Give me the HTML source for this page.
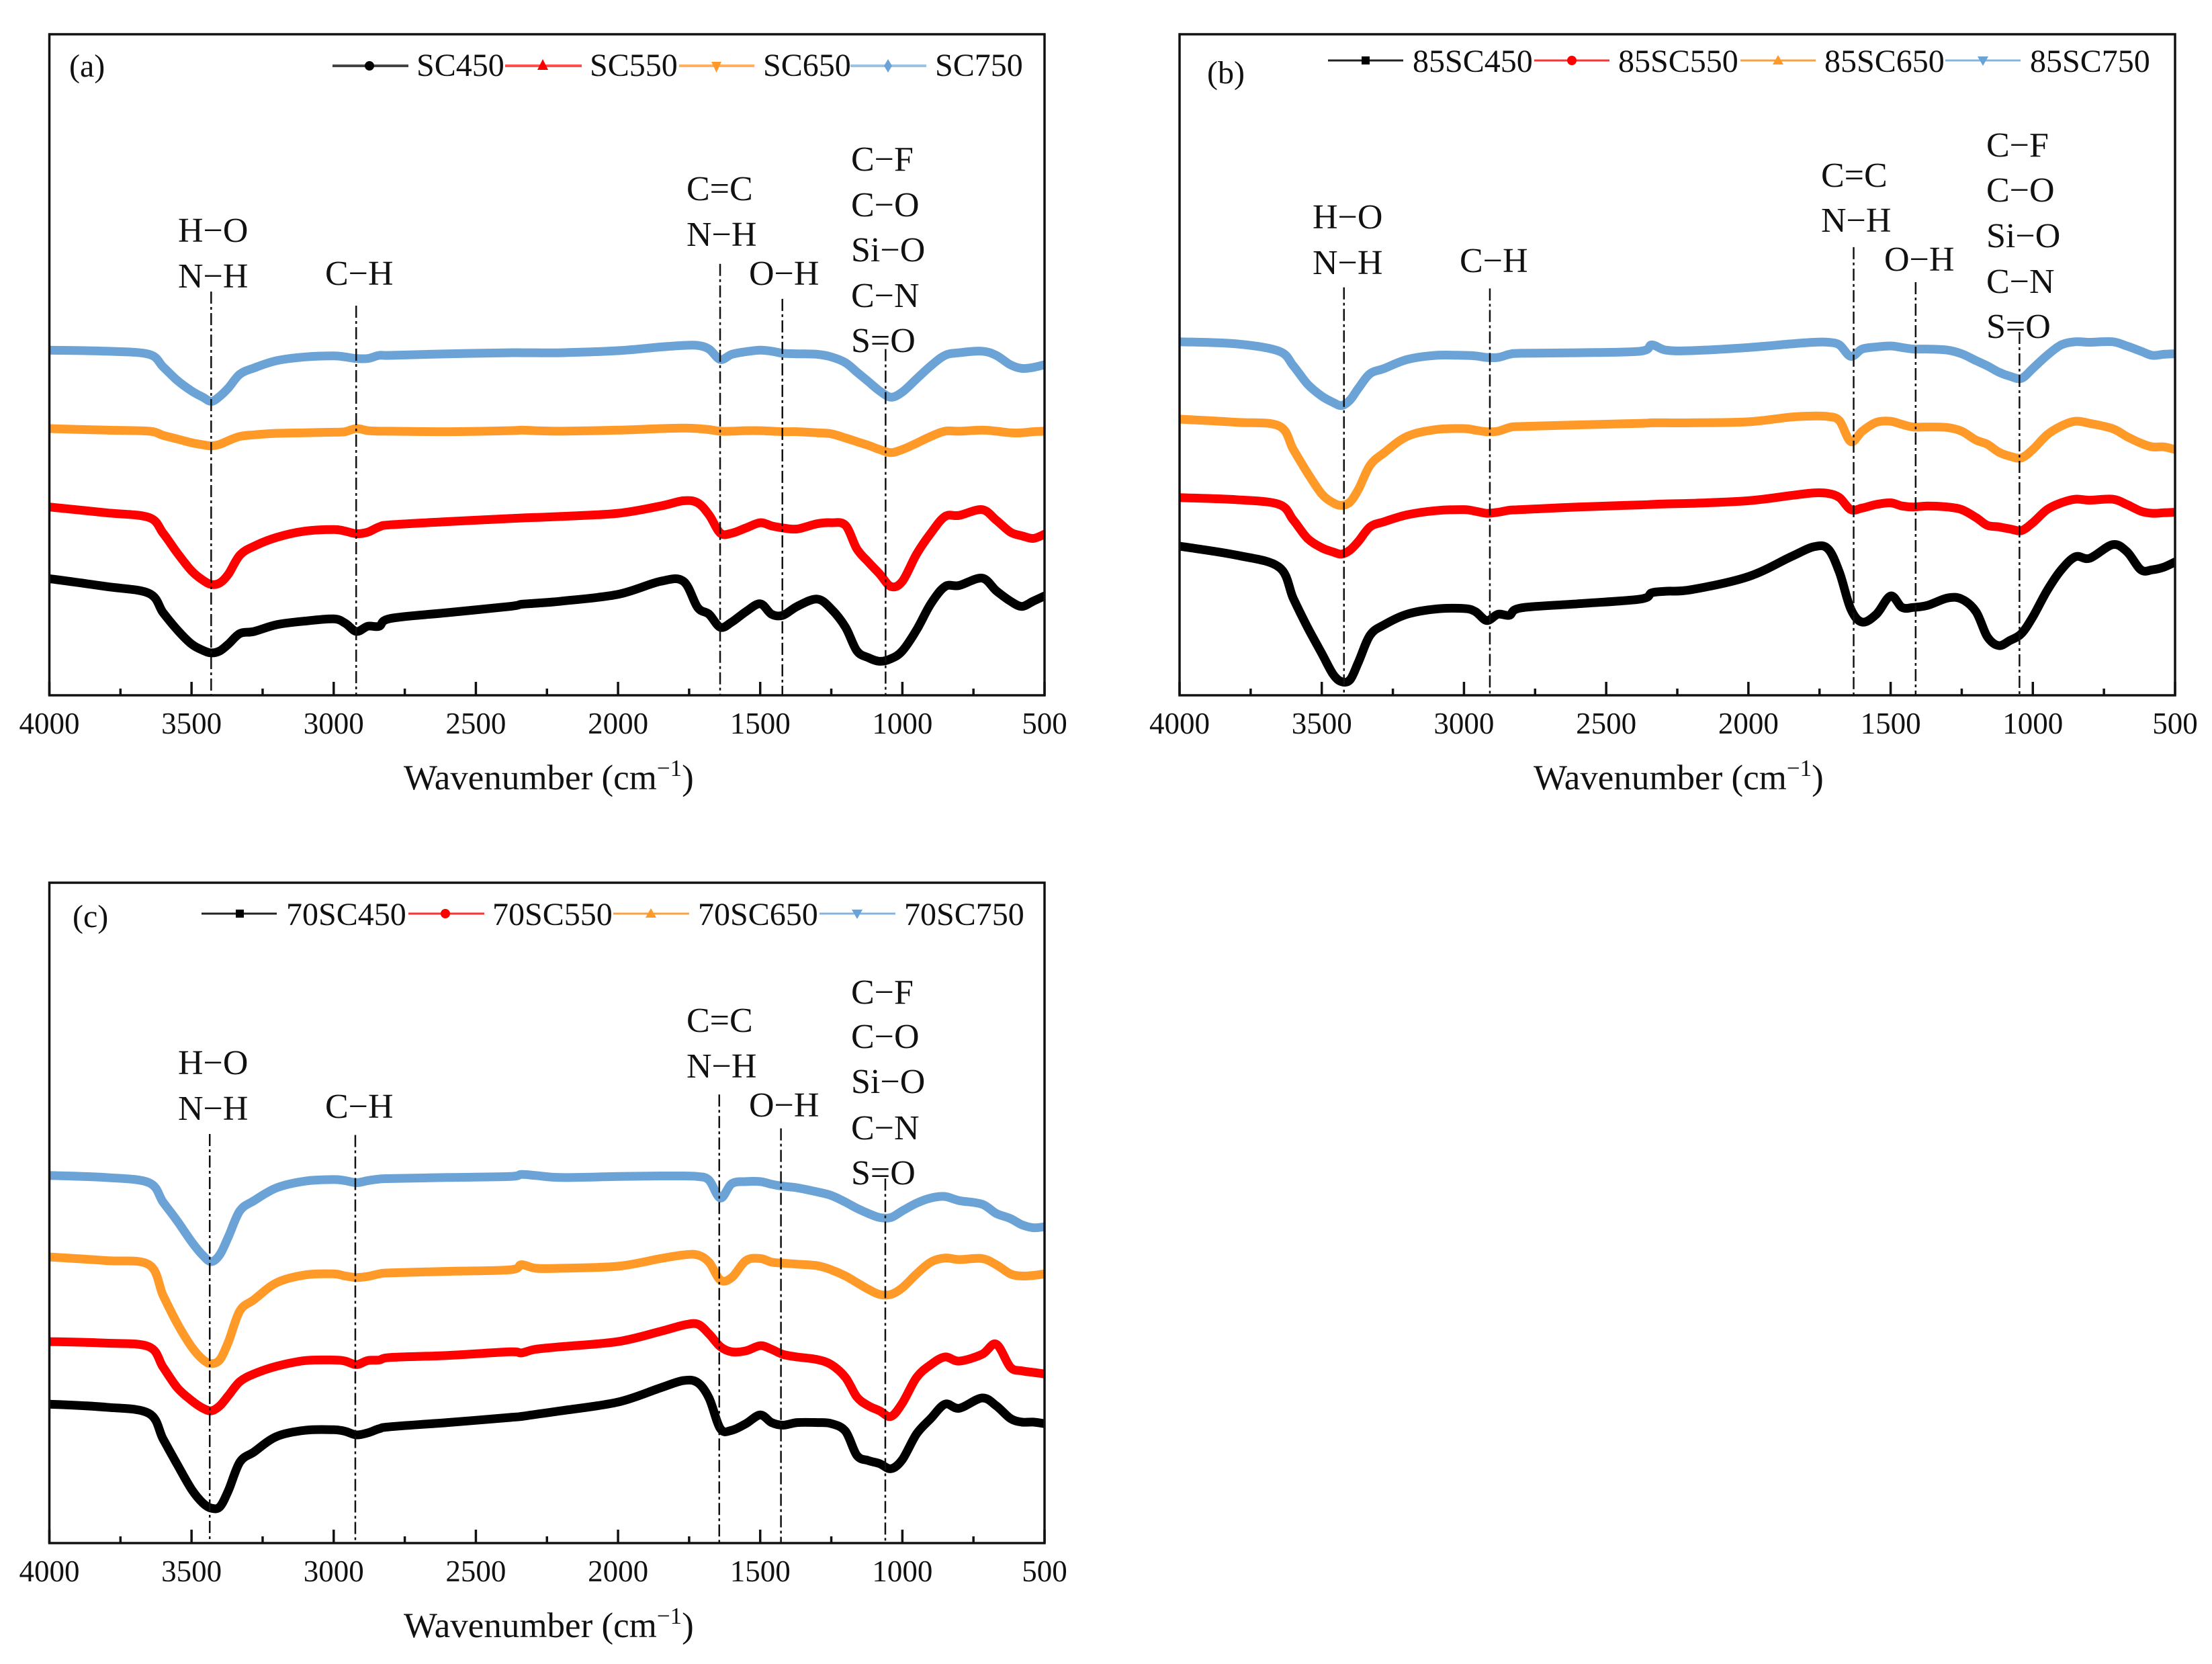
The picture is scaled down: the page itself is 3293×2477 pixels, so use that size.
<!DOCTYPE html>
<html lang="en">
<head>
<meta charset="utf-8">
<title>FTIR spectra panels</title>
<style>
html,body{margin:0;padding:0;background:#fff;}
svg{display:block;}
text{font-family:"Liberation Serif",serif;fill:#111;}
.tk{font-size:45px;text-anchor:middle;}
.an{font-size:52px;}
.lg{font-size:48px;}
.ttl{font-size:53px;}
.pl{font-size:48px;}
</style>
</head>
<body>
<svg id="figure" xmlns="http://www.w3.org/2000/svg" width="3293" height="2477" viewBox="0 0 3293 2477">
<rect width="3293" height="2477" fill="#fff"/>

<g id="panel-a">
  <g id="series-a"></g>
  <g id="axes-a"></g>
  <text class="pl" x="103" y="114">(a)</text>
  <g>
    <line x1="495" x2="608" y1="98" y2="98" stroke="#444" stroke-width="4"/>
    <circle cx="550" cy="98" r="7" fill="#000"/>
    <text class="lg" x="620" y="113">SC450</text>
    <line x1="752" x2="866" y1="98" y2="98" stroke="#ff5050" stroke-width="4"/>
    <path d="M808 88 l8 16 h-16 z" fill="#f00"/>
    <text class="lg" x="878" y="113">SC550</text>
    <line x1="1011" x2="1123" y1="98" y2="98" stroke="#ffb060" stroke-width="4"/>
    <path d="M1059 92 h15 l-7.500 16 z" fill="#ff9a28"/>
    <text class="lg" x="1136" y="113">SC650</text>
    <line x1="1266" x2="1379" y1="98" y2="98" stroke="#9cc2e4" stroke-width="4"/>
    <path d="M1322 88 l6 10 l-6 10 l-6 -10 z" fill="#6ba3d6"/>
    <text class="lg" x="1392" y="113">SC750</text>
  </g>
  <g>
    <text class="an" x="265" y="360">H−O</text>
    <text class="an" x="265" y="428">N−H</text>
    <text class="an" x="484" y="424">C−H</text>
    <text class="an" x="1022" y="298">C=C</text>
    <text class="an" x="1022" y="366">N−H</text>
    <text class="an" x="1115" y="424">O−H</text>
    <text class="an" x="1267" y="254">C−F</text>
    <text class="an" x="1267" y="322">C−O</text>
    <text class="an" x="1267" y="389">Si−O</text>
    <text class="an" x="1267" y="457">C−N</text>
    <text class="an" x="1267" y="524">S=O</text>
  </g>
  <text class="ttl" x="601" y="1175">Wavenumber (cm<tspan dy="-20" font-size="35">−1</tspan><tspan dy="20">)</tspan></text>
</g>

<g id="panel-b">
  <g id="series-b"></g>
  <g id="axes-b"></g>
  <text class="pl" x="1797" y="124">(b)</text>
  <g>
    <line x1="1977" x2="2089" y1="90" y2="90" stroke="#222" stroke-width="3"/>
    <rect x="2027" y="84" width="12" height="12" fill="#000"/>
    <text class="lg" x="2103" y="107">85SC450</text>
    <line x1="2284" x2="2396" y1="90" y2="90" stroke="#f33" stroke-width="3"/>
    <circle cx="2340" cy="90" r="7" fill="#f00"/>
    <text class="lg" x="2409" y="107">85SC550</text>
    <line x1="2591" x2="2703" y1="90" y2="90" stroke="#ffa040" stroke-width="3"/>
    <path d="M2647 82 l8 14 h-16 z" fill="#ff9a28"/>
    <text class="lg" x="2716" y="107">85SC650</text>
    <line x1="2896" x2="3008" y1="90" y2="90" stroke="#86b4de" stroke-width="3"/>
    <path d="M2944 84 h16 l-8 14 z" fill="#6ba3d6"/>
    <text class="lg" x="3022" y="107">85SC750</text>
  </g>
  <g>
    <text class="an" x="1954" y="340">H−O</text>
    <text class="an" x="1954" y="408">N−H</text>
    <text class="an" x="2173" y="405">C−H</text>
    <text class="an" x="2711" y="278">C=C</text>
    <text class="an" x="2711" y="345">N−H</text>
    <text class="an" x="2805" y="403">O−H</text>
    <text class="an" x="2957" y="233">C−F</text>
    <text class="an" x="2957" y="300">C−O</text>
    <text class="an" x="2957" y="368">Si−O</text>
    <text class="an" x="2957" y="436">C−N</text>
    <text class="an" x="2957" y="503">S=O</text>
  </g>
  <text class="ttl" x="2283" y="1175">Wavenumber (cm<tspan dy="-20" font-size="35">−1</tspan><tspan dy="20">)</tspan></text>
</g>

<g id="panel-c">
  <g id="series-c"></g>
  <g id="axes-c"></g>
  <text class="pl" x="108" y="1380">(c)</text>
  <g>
    <line x1="300" x2="412" y1="1360" y2="1360" stroke="#222" stroke-width="3"/>
    <rect x="351" y="1354" width="12" height="12" fill="#000"/>
    <text class="lg" x="426" y="1377">70SC450</text>
    <line x1="608" x2="721" y1="1360" y2="1360" stroke="#f33" stroke-width="3"/>
    <circle cx="663" cy="1360" r="7" fill="#f00"/>
    <text class="lg" x="733" y="1377">70SC550</text>
    <line x1="913" x2="1026" y1="1360" y2="1360" stroke="#ffa040" stroke-width="3"/>
    <path d="M969 1352 l8 14 h-16 z" fill="#ff9a28"/>
    <text class="lg" x="1039" y="1377">70SC650</text>
    <line x1="1220" x2="1333" y1="1360" y2="1360" stroke="#86b4de" stroke-width="3"/>
    <path d="M1268 1354 h16 l-8 14 z" fill="#6ba3d6"/>
    <text class="lg" x="1346" y="1377">70SC750</text>
  </g>
  <g>
    <text class="an" x="265" y="1599">H−O</text>
    <text class="an" x="265" y="1667">N−H</text>
    <text class="an" x="484" y="1664">C−H</text>
    <text class="an" x="1022" y="1536">C=C</text>
    <text class="an" x="1022" y="1604">N−H</text>
    <text class="an" x="1115" y="1662">O−H</text>
    <text class="an" x="1267" y="1494">C−F</text>
    <text class="an" x="1267" y="1560">C−O</text>
    <text class="an" x="1267" y="1627">Si−O</text>
    <text class="an" x="1267" y="1696">C−N</text>
    <text class="an" x="1267" y="1763">S=O</text>
  </g>
  <text class="ttl" x="601" y="2437">Wavenumber (cm<tspan dy="-20" font-size="35">−1</tspan><tspan dy="20">)</tspan></text>
</g>
</svg>

<script>
// Shared wavenumber grid (cm-1)
const wavenumbers = [
4000,3800,3650,3600,3550,3500,3460,3430,3400,3370,3330,
3280,3200,3100,3000,2960,2920,2880,2840,2800,2600,2380,
2340,2290,2200,2000,1850,1770,1720,1680,1640,1600,1550,
1500,1460,1420,1370,1300,1250,1200,1160,1120,1080,1040,
1000,950,900,850,800,720,670,620,580,540,500];

const tickLabels = [4000,3500,3000,2500,2000,1500,1000,500];
const minorTicks = [3750,3250,2750,2250,1750,1250,750];

// Signal readings (arbitrary units, offset downward)
const SC750 = [
670,672,678,702,728,748,760,768,758,742,716,
704,690,683,681,683,686,686,680,680,677,675,
675,675,675,671,664,661,661,668,688,678,673,
670,672,676,677,678,683,694,712,730,748,760,
750,725,700,680,675,672,680,698,705,703,698];
const SC650 = [
820,823,825,833,840,847,851,853,850,843,835,
832,829,828,827,826,820,824,825,825,826,824,
823,824,825,823,820,819,820,822,825,825,824,
824,825,826,826,828,830,838,845,852,860,866,
860,848,835,825,825,823,825,828,828,826,825];
const SC550 = [
970,981,990,1020,1058,1092,1110,1118,1115,1098,1062,
1045,1028,1016,1013,1016,1021,1018,1008,1004,998,992,
991,990,988,982,968,958,962,985,1020,1020,1010,
1000,1006,1010,1012,1002,1000,1005,1050,1075,1098,1122,
1112,1060,1020,988,986,975,995,1018,1025,1030,1022];
const SC450 = [
1107,1122,1135,1172,1205,1232,1244,1249,1245,1232,1212,
1208,1195,1188,1184,1192,1208,1198,1198,1183,1172,1160,
1156,1154,1150,1137,1112,1112,1162,1175,1200,1190,1170,
1155,1175,1177,1160,1146,1165,1200,1245,1258,1265,1260,
1245,1205,1155,1122,1120,1106,1130,1150,1160,1150,1140];

const SC85_750 = [
654,658,672,700,735,758,770,776,765,742,715,
705,688,680,680,681,684,684,678,676,675,672,
660,670,671,665,658,655,655,660,682,668,664,
662,665,668,668,670,677,690,700,712,720,724,
705,680,660,654,655,654,662,672,680,678,677];
const SC85_650 = [
802,808,815,860,905,945,962,967,960,935,890,
866,835,822,820,823,826,825,818,816,813,810,
809,809,809,807,798,796,797,805,845,825,808,
806,812,817,817,818,825,842,850,865,873,876,
860,832,815,806,810,820,835,848,855,855,860];
const SC85_550 = [
952,956,965,995,1030,1048,1056,1060,1052,1035,1008,
998,985,977,975,978,982,980,976,975,970,966,
965,964,963,958,948,943,944,952,975,972,965,
962,968,970,968,970,975,990,1005,1008,1012,1015,
1000,975,962,955,957,955,965,978,982,981,980];
const SC85_450 = [
1045,1062,1085,1145,1200,1250,1290,1304,1300,1265,1215,
1195,1175,1165,1164,1170,1187,1175,1177,1163,1155,1146,
1134,1131,1128,1103,1065,1046,1050,1095,1165,1190,1175,
1140,1162,1162,1158,1144,1146,1170,1218,1235,1225,1212,
1180,1130,1090,1065,1068,1042,1055,1090,1090,1085,1075];

const SC70_750 = [
616,620,630,668,705,745,772,784,770,735,685,
665,640,627,624,626,630,626,623,622,620,618,
614,616,620,618,617,617,618,625,660,632,628,
628,633,637,640,648,655,668,680,690,698,698,
685,670,660,657,665,672,690,700,712,718,716];
const SC70_650 = [
775,782,790,850,905,950,975,983,975,940,880,
858,825,810,808,812,815,813,808,806,803,800,
790,797,797,793,778,771,771,785,820,815,782,
778,785,787,789,792,800,812,825,838,848,848,
835,808,785,777,780,778,790,808,812,811,808];
const SC70_550 = [
940,943,950,990,1030,1055,1070,1075,1065,1045,1018,
1003,988,977,976,978,985,977,976,971,967,960,
962,955,950,940,920,908,906,925,950,960,958,
948,955,965,970,975,985,1010,1048,1065,1075,1086,
1060,1010,985,970,978,965,945,990,997,1000,1003];
const SC70_450 = [
1062,1068,1080,1130,1180,1228,1255,1265,1262,1230,1175,
1155,1125,1113,1112,1115,1122,1118,1110,1106,1098,1088,
1086,1082,1075,1058,1030,1016,1020,1050,1110,1113,1100,
1083,1098,1103,1098,1098,1100,1115,1162,1172,1178,1188,
1170,1120,1090,1062,1070,1050,1065,1090,1097,1097,1100];

// Band reference wavenumbers per panel
const bandsA = [3431,2921,1641,1422,1059];
const bandsB = [3422,2909,1630,1412,1047];
const bandsC = [3436,2924,1644,1427,1060];
const bandTopsA = [558,585,505,572,668];
const bandTopsB = [550,552,473,540,635];
const bandTopsC = [535,537,458,524,622];

const NS = 'http://www.w3.org/2000/svg';
const COLORS = {black:'#000000', red:'#ff0000', orange:'#ff9a28', blue:'#6ba3d6'};

function make(tag, attrs, parent){
  const el = document.createElementNS(NS, tag);
  for (const k in attrs) el.setAttribute(k, attrs[k]);
  parent.appendChild(el);
  return el;
}

// Catmull-Rom smoothing through the plotted readings
function smoothPath(pts){
  let d = 'M' + pts[0][0].toFixed(1) + ' ' + pts[0][1].toFixed(1);
  for (let i = 0; i < pts.length - 1; i++){
    const p0 = pts[Math.max(i - 1, 0)], p1 = pts[i], p2 = pts[i + 1], p3 = pts[Math.min(i + 2, pts.length - 1)];
    const c1x = p1[0] + (p2[0] - p0[0]) / 6, c1y = p1[1] + (p2[1] - p0[1]) / 6;
    const c2x = p2[0] - (p3[0] - p1[0]) / 6, c2y = p2[1] - (p3[1] - p1[1]) / 6;
    d += ' C' + c1x.toFixed(1) + ' ' + c1y.toFixed(1) + ' ' + c2x.toFixed(1) + ' ' + c2y.toFixed(1) + ' ' + p2[0].toFixed(1) + ' ' + p2[1].toFixed(1);
  }
  return d;
}

function drawPanel(p){
  const xOf = w => p.left + (4000 - w) / 3500 * (p.right - p.left);
  const yOf = v => p.top + (v - p.dTop) / (p.dBot - p.dTop) * (p.bottom - p.top);

  const sg = document.getElementById('series-' + p.id);
  const ag = document.getElementById('axes-' + p.id);

  const clip = make('clipPath', {id:'clip-' + p.id}, sg);
  make('rect', {x:p.left, y:p.top, width:p.right - p.left, height:p.bottom - p.top}, clip);

  p.series.forEach(s => {
    const d = smoothPath(s.values.map((v, i) => [xOf(wavenumbers[i]), yOf(v)]));
    const path = make('path', {d:d, fill:'none', stroke:s.color, 'stroke-width':13, 'stroke-linejoin':'round', 'stroke-linecap':'round', 'clip-path':'url(#clip-' + p.id + ')'}, sg);
    
    
  });

  p.bands.forEach((w, i) => {
    const ln = make('line', {x1:xOf(w), x2:xOf(w), y1:yOf(p.bandTops[i]), y2:p.bottom, stroke:'#111', 'stroke-width':2.5, 'stroke-dasharray':'18 5 4 5'}, ag);
    
    
  });

  const frame = make('rect', {x:p.left, y:p.top, width:p.right - p.left, height:p.bottom - p.top, fill:'none', stroke:'#111', 'stroke-width':3.5}, ag);
  
  

  tickLabels.forEach(w => {
    const t = make('line', {x1:xOf(w), x2:xOf(w), y1:p.bottom - 20, y2:p.bottom, stroke:'#111', 'stroke-width':3.5}, ag);
    
    
    const lab = make('text', {x:xOf(w), y:p.bottom + 57, class:'tk'}, ag);
    
    
    lab.textContent = String(w);
  });
  minorTicks.forEach(w => {
    const t = make('line', {x1:xOf(w), x2:xOf(w), y1:p.bottom - 10, y2:p.bottom, stroke:'#111', 'stroke-width':3.5}, ag);
    
    
  });
}

drawPanel({id:'a', left:73.5, right:1555, top:51, bottom:1035, dTop:66, dBot:1330,
  bands:bandsA, bandTops:bandTopsA,
  series:[
    {name:'sc450', color:COLORS.black, values:SC450},
    {name:'sc550', color:COLORS.red, values:SC550},
    {name:'sc650', color:COLORS.orange, values:SC650},
    {name:'sc750', color:COLORS.blue, values:SC750}
  ]});
drawPanel({id:'b', left:1756, right:3238, top:51, bottom:1035, dTop:66, dBot:1330,
  bands:bandsB, bandTops:bandTopsB,
  series:[
    {name:'85sc450', color:COLORS.black, values:SC85_450},
    {name:'85sc550', color:COLORS.red, values:SC85_550},
    {name:'85sc650', color:COLORS.orange, values:SC85_650},
    {name:'85sc750', color:COLORS.blue, values:SC85_750}
  ]});
drawPanel({id:'c', left:73.5, right:1555, top:1314, bottom:2297, dTop:45, dBot:1333,
  bands:bandsC, bandTops:bandTopsC,
  series:[
    {name:'70sc450', color:COLORS.black, values:SC70_450},
    {name:'70sc550', color:COLORS.red, values:SC70_550},
    {name:'70sc650', color:COLORS.orange, values:SC70_650},
    {name:'70sc750', color:COLORS.blue, values:SC70_750}
  ]});
</script>
</body>
</html>
